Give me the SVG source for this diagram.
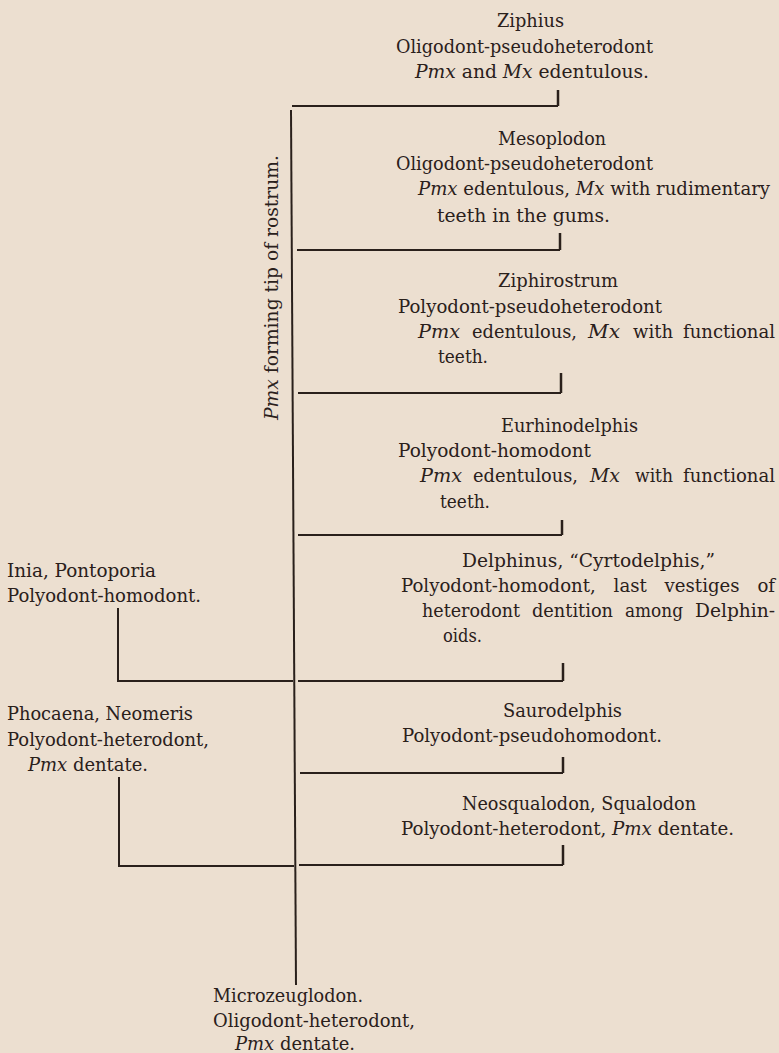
<svg xmlns="http://www.w3.org/2000/svg" width="779" height="1053" viewBox="0 0 779 1053">
<style>
text{font-family:"DejaVu Serif","Liberation Serif","Noto Serif",serif;font-size:18px;fill:#2a201b}
.i{font-style:italic}
.ln{stroke:#2a201b;stroke-width:2;fill:none;stroke-linecap:butt}
.tk{stroke:#2a201b;stroke-width:2.5;fill:none}
</style>
<rect width="779" height="1053" fill="#ecdfd0"/>
<g id="connectors">
<line class="ln" x1="291" y1="110" x2="296" y2="985"/>
<line class="ln" x1="292" y1="106" x2="558" y2="106"/><line class="tk" x1="558" y1="90" x2="558" y2="106"/>
<line class="ln" x1="297" y1="250" x2="560" y2="250"/><line class="tk" x1="560" y1="233" x2="560" y2="250"/>
<line class="ln" x1="298" y1="393" x2="561" y2="393"/><line class="tk" x1="561" y1="373" x2="561" y2="393"/>
<line class="ln" x1="298" y1="535" x2="562" y2="535"/><line class="tk" x1="562" y1="520" x2="562" y2="535"/>
<line class="ln" x1="298" y1="681" x2="563" y2="681"/><line class="tk" x1="563" y1="663" x2="563" y2="681"/>
<line class="ln" x1="117" y1="681" x2="293" y2="681"/><line class="ln" x1="118" y1="608" x2="118" y2="681"/>
<line class="ln" x1="300" y1="773" x2="563" y2="773"/><line class="tk" x1="563" y1="757" x2="563" y2="773"/>
<line class="ln" x1="118" y1="866" x2="294" y2="866"/><line class="ln" x1="119" y1="777" x2="119" y2="866"/>
<line class="ln" x1="299" y1="865" x2="563" y2="865"/><line class="tk" x1="563" y1="845" x2="563" y2="865"/>
</g>
<g id="rostrum-label">
<text transform="translate(278,420) rotate(-90)" textLength="265" lengthAdjust="spacingAndGlyphs"><tspan class="i">Pmx</tspan> forming tip of rostrum.</text>
</g>
<g id="ziphius">
<text x="497" y="27" textLength="67" lengthAdjust="spacingAndGlyphs">Ziphius</text>
<text x="396" y="53" textLength="257" lengthAdjust="spacingAndGlyphs">Oligodont-pseudoheterodont</text>
<text x="415" y="78" textLength="234" lengthAdjust="spacingAndGlyphs"><tspan class="i">Pmx</tspan> and <tspan class="i">Mx</tspan> edentulous.</text>
</g>
<g id="mesoplodon">
<text x="498" y="145" textLength="108" lengthAdjust="spacingAndGlyphs">Mesoplodon</text>
<text x="396" y="170" textLength="257" lengthAdjust="spacingAndGlyphs">Oligodont-pseudoheterodont</text>
<text x="418" y="195" textLength="352" lengthAdjust="spacingAndGlyphs"><tspan class="i">Pmx</tspan> edentulous, <tspan class="i">Mx</tspan> with rudimentary</text>
<text x="437" y="222" textLength="173" lengthAdjust="spacingAndGlyphs">teeth in the gums.</text>
</g>
<g id="ziphirostrum">
<text x="498" y="287" textLength="120" lengthAdjust="spacingAndGlyphs">Ziphirostrum</text>
<text x="398" y="313" textLength="264" lengthAdjust="spacingAndGlyphs">Polyodont-pseudoheterodont</text>
<text y="338"><tspan class="i" x="418" textLength="42" lengthAdjust="spacingAndGlyphs">Pmx</tspan><tspan x="472" textLength="105" lengthAdjust="spacingAndGlyphs">edentulous,</tspan><tspan class="i" x="588" textLength="32" lengthAdjust="spacingAndGlyphs">Mx</tspan><tspan x="633" textLength="40" lengthAdjust="spacingAndGlyphs">with</tspan><tspan x="683" textLength="92" lengthAdjust="spacingAndGlyphs">functional</tspan></text>
<text x="438" y="363" textLength="50" lengthAdjust="spacingAndGlyphs">teeth.</text>
</g>
<g id="eurhinodelphis">
<text x="501" y="432" textLength="137" lengthAdjust="spacingAndGlyphs">Eurhinodelphis</text>
<text x="398" y="457" textLength="193" lengthAdjust="spacingAndGlyphs">Polyodont-homodont</text>
<text y="482"><tspan class="i" x="420" textLength="42" lengthAdjust="spacingAndGlyphs">Pmx</tspan><tspan x="473" textLength="105" lengthAdjust="spacingAndGlyphs">edentulous,</tspan><tspan class="i" x="590" textLength="30" lengthAdjust="spacingAndGlyphs">Mx</tspan><tspan x="635" textLength="38" lengthAdjust="spacingAndGlyphs">with</tspan><tspan x="683" textLength="92" lengthAdjust="spacingAndGlyphs">functional</tspan></text>
<text x="440" y="508" textLength="50" lengthAdjust="spacingAndGlyphs">teeth.</text>
</g>
<g id="delphinus">
<text x="462" y="567" textLength="253" lengthAdjust="spacingAndGlyphs">Delphinus, “Cyrtodelphis,”</text>
<text x="401" y="592" word-spacing="12" textLength="374" lengthAdjust="spacingAndGlyphs">Polyodont-homodont, last vestiges of</text>
<text y="617"><tspan x="422" textLength="98" lengthAdjust="spacingAndGlyphs">heterodont</tspan><tspan x="532" textLength="81" lengthAdjust="spacingAndGlyphs">dentition</tspan><tspan x="625" textLength="58" lengthAdjust="spacingAndGlyphs">among</tspan><tspan x="695" textLength="80" lengthAdjust="spacingAndGlyphs">Delphin-</tspan></text>
<text x="443" y="642" textLength="39" lengthAdjust="spacingAndGlyphs">oids.</text>
</g>
<g id="inia">
<text x="7" y="577" textLength="149" lengthAdjust="spacingAndGlyphs">Inia, Pontoporia</text>
<text x="7" y="602" textLength="194" lengthAdjust="spacingAndGlyphs">Polyodont-homodont.</text>
</g>
<g id="saurodelphis">
<text x="503" y="717" textLength="119" lengthAdjust="spacingAndGlyphs">Saurodelphis</text>
<text x="402" y="742" textLength="260" lengthAdjust="spacingAndGlyphs">Polyodont-pseudohomodont.</text>
</g>
<g id="phocaena">
<text x="7" y="720" textLength="186" lengthAdjust="spacingAndGlyphs">Phocaena, Neomeris</text>
<text x="7" y="746" textLength="202" lengthAdjust="spacingAndGlyphs">Polyodont-heterodont,</text>
<text x="28" y="771" textLength="120" lengthAdjust="spacingAndGlyphs"><tspan class="i">Pmx</tspan> dentate.</text>
</g>
<g id="neosqualodon">
<text x="462" y="810" textLength="234" lengthAdjust="spacingAndGlyphs">Neosqualodon, Squalodon</text>
<text x="401" y="835" textLength="333" lengthAdjust="spacingAndGlyphs">Polyodont-heterodont, <tspan class="i">Pmx</tspan> dentate.</text>
</g>
<g id="microzeuglodon">
<text x="213" y="1002" textLength="150" lengthAdjust="spacingAndGlyphs">Microzeuglodon.</text>
<text x="213" y="1027" textLength="202" lengthAdjust="spacingAndGlyphs">Oligodont-heterodont,</text>
<text x="235" y="1050" textLength="120" lengthAdjust="spacingAndGlyphs"><tspan class="i">Pmx</tspan> dentate.</text>
</g>
</svg>
